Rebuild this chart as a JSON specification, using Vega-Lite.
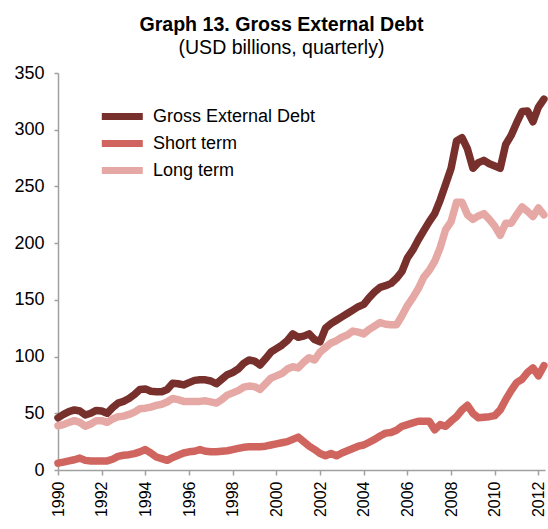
{
  "$schema": "https://vega.github.io/schema/vega-lite/v6.json",
  "width": 487,
  "height": 397,
  "padding": {"left": 13, "top": 14, "right": 4, "bottom": 0},
  "background": "white",
  "config": {"view": {"stroke": null}, "font": "Liberation Sans"},
  "title": {
    "text": "Graph 13. Gross External Debt",
    "subtitle": "(USD billions, quarterly)",
    "font": "Liberation Sans",
    "fontSize": 19.6,
    "fontWeight": "bold",
    "color": "black",
    "subtitleFont": "Liberation Sans",
    "subtitleFontSize": 19.5,
    "subtitleColor": "black",
    "subtitlePadding": 3,
    "anchor": "middle",
    "frame": "group",
    "dx": -20,
    "offset": 6
  },
  "data": {
    "values": [
      {"t": 1990.00, "g": 46, "s": 6, "l": 39},
      {"t": 1990.25, "g": 49, "s": 7, "l": 40},
      {"t": 1990.50, "g": 51.5, "s": 8, "l": 42},
      {"t": 1990.75, "g": 53, "s": 9, "l": 43.5},
      {"t": 1991.00, "g": 52, "s": 10.5, "l": 42},
      {"t": 1991.25, "g": 48.5, "s": 8.5, "l": 38.5},
      {"t": 1991.50, "g": 50, "s": 8, "l": 40.5},
      {"t": 1991.75, "g": 52.5, "s": 8, "l": 43.5},
      {"t": 1992.00, "g": 52, "s": 8, "l": 43.5},
      {"t": 1992.25, "g": 50, "s": 8, "l": 42},
      {"t": 1992.50, "g": 55, "s": 9.5, "l": 45},
      {"t": 1992.75, "g": 59, "s": 12, "l": 47},
      {"t": 1993.00, "g": 60.5, "s": 13, "l": 47.5},
      {"t": 1993.25, "g": 63, "s": 13.5, "l": 49},
      {"t": 1993.50, "g": 66.5, "s": 14.5, "l": 51},
      {"t": 1993.75, "g": 71, "s": 16, "l": 54},
      {"t": 1994.00, "g": 71.5, "s": 18, "l": 54.5},
      {"t": 1994.25, "g": 69.5, "s": 15, "l": 55.5},
      {"t": 1994.50, "g": 69, "s": 11.5, "l": 57},
      {"t": 1994.75, "g": 69, "s": 10, "l": 58},
      {"t": 1995.00, "g": 71, "s": 8.5, "l": 60},
      {"t": 1995.25, "g": 76.5, "s": 11, "l": 63},
      {"t": 1995.50, "g": 76, "s": 13, "l": 62},
      {"t": 1995.75, "g": 75, "s": 15, "l": 60.5},
      {"t": 1996.00, "g": 77, "s": 16, "l": 60.5},
      {"t": 1996.25, "g": 79, "s": 16.5, "l": 60.5},
      {"t": 1996.50, "g": 79.5, "s": 18, "l": 60.5},
      {"t": 1996.75, "g": 79.5, "s": 16.5, "l": 61},
      {"t": 1997.00, "g": 78.5, "s": 16, "l": 60},
      {"t": 1997.25, "g": 76, "s": 16, "l": 59},
      {"t": 1997.50, "g": 80, "s": 16.5, "l": 62},
      {"t": 1997.75, "g": 84, "s": 17, "l": 66},
      {"t": 1998.00, "g": 86, "s": 18, "l": 68},
      {"t": 1998.25, "g": 89, "s": 19, "l": 70},
      {"t": 1998.50, "g": 94, "s": 20, "l": 73},
      {"t": 1998.75, "g": 97, "s": 20.5, "l": 74},
      {"t": 1999.00, "g": 96, "s": 20.5, "l": 73.5},
      {"t": 1999.25, "g": 92.5, "s": 20.5, "l": 71},
      {"t": 1999.50, "g": 98, "s": 21, "l": 76},
      {"t": 1999.75, "g": 104, "s": 22, "l": 81},
      {"t": 2000.00, "g": 107, "s": 23, "l": 83},
      {"t": 2000.25, "g": 110, "s": 24, "l": 85},
      {"t": 2000.50, "g": 114, "s": 25, "l": 89},
      {"t": 2000.75, "g": 120, "s": 27, "l": 91},
      {"t": 2001.00, "g": 117, "s": 29, "l": 90},
      {"t": 2001.25, "g": 118, "s": 25, "l": 95},
      {"t": 2001.50, "g": 120, "s": 21, "l": 99},
      {"t": 2001.75, "g": 115, "s": 18, "l": 97},
      {"t": 2002.00, "g": 113, "s": 14.5, "l": 104},
      {"t": 2002.25, "g": 125, "s": 12.5, "l": 108},
      {"t": 2002.50, "g": 129, "s": 14.5, "l": 112},
      {"t": 2002.75, "g": 132, "s": 12.5, "l": 114},
      {"t": 2003.00, "g": 135, "s": 15, "l": 117},
      {"t": 2003.25, "g": 138, "s": 17, "l": 119},
      {"t": 2003.50, "g": 141, "s": 19, "l": 122.5},
      {"t": 2003.75, "g": 144, "s": 21, "l": 121.5},
      {"t": 2004.00, "g": 146, "s": 22, "l": 120},
      {"t": 2004.25, "g": 152, "s": 24.5, "l": 124},
      {"t": 2004.50, "g": 157, "s": 27, "l": 127},
      {"t": 2004.75, "g": 161, "s": 30, "l": 130},
      {"t": 2005.00, "g": 162.5, "s": 32.5, "l": 128.5},
      {"t": 2005.25, "g": 164.5, "s": 33, "l": 128},
      {"t": 2005.50, "g": 169, "s": 35, "l": 128},
      {"t": 2005.75, "g": 175, "s": 38.5, "l": 136},
      {"t": 2006.00, "g": 187, "s": 40, "l": 145},
      {"t": 2006.25, "g": 194, "s": 41.5, "l": 152},
      {"t": 2006.50, "g": 203, "s": 43, "l": 160},
      {"t": 2006.75, "g": 211, "s": 43, "l": 170},
      {"t": 2007.00, "g": 219, "s": 43, "l": 176},
      {"t": 2007.25, "g": 226, "s": 35.5, "l": 184},
      {"t": 2007.50, "g": 238, "s": 40, "l": 196},
      {"t": 2007.75, "g": 252, "s": 38.5, "l": 212},
      {"t": 2008.00, "g": 266, "s": 43, "l": 219},
      {"t": 2008.25, "g": 290, "s": 47, "l": 236},
      {"t": 2008.50, "g": 293, "s": 53, "l": 236},
      {"t": 2008.75, "g": 283, "s": 57, "l": 225},
      {"t": 2009.00, "g": 266, "s": 50, "l": 221},
      {"t": 2009.25, "g": 271, "s": 46, "l": 224},
      {"t": 2009.50, "g": 273, "s": 46.5, "l": 226},
      {"t": 2009.75, "g": 270, "s": 47, "l": 221},
      {"t": 2010.00, "g": 268, "s": 48, "l": 215},
      {"t": 2010.25, "g": 266, "s": 53, "l": 207},
      {"t": 2010.50, "g": 287, "s": 62, "l": 217.5},
      {"t": 2010.75, "g": 295, "s": 70, "l": 217.5},
      {"t": 2011.00, "g": 306, "s": 77, "l": 225},
      {"t": 2011.25, "g": 316, "s": 80, "l": 232},
      {"t": 2011.50, "g": 316.5, "s": 86, "l": 228},
      {"t": 2011.75, "g": 307, "s": 90, "l": 223.5},
      {"t": 2012.00, "g": 320, "s": 83, "l": 231},
      {"t": 2012.25, "g": 327, "s": 92, "l": 225}
    ]
  },
  "transform": [{"fold": ["g", "s", "l"], "as": ["k", "v"]}],
  "mark": {"type": "line", "strokeWidth": 7.5, "strokeJoin": "round", "strokeCap": "round", "clip": false},
  "encoding": {
    "x": {
      "field": "t",
      "type": "quantitative",
      "scale": {"domain": [1990, 2012.3], "nice": false, "zero": false},
      "axis": {
        "title": null,
        "values": [1990, 1992, 1994, 1996, 1998, 2000, 2002, 2004, 2006, 2008, 2010, 2012],
        "format": "d",
        "labelAngle": 270,
        "labelFontSize": 16,
        "labelColor": "black",
        "labelPadding": 6,
        "labelFont": "Liberation Sans",
        "tickSize": 5,
        "tickColor": "#a0a0a0",
        "domainColor": "#a0a0a0",
        "domainWidth": 1.5,
        "tickWidth": 1.5,
        "grid": false
      }
    },
    "y": {
      "field": "v",
      "type": "quantitative",
      "scale": {"domain": [0, 350], "nice": false},
      "axis": {
        "title": null,
        "values": [0, 50, 100, 150, 200, 250, 300, 350],
        "labelFontSize": 18,
        "labelColor": "black",
        "labelPadding": 10,
        "labelFont": "Liberation Sans",
        "tickSize": 4,
        "tickColor": "#a0a0a0",
        "domainColor": "#a0a0a0",
        "domainWidth": 1.5,
        "tickWidth": 1.5,
        "grid": false
      }
    },
    "color": {
      "field": "k",
      "type": "nominal",
      "scale": {"domain": ["g", "s", "l"], "range": ["#78302c", "#cf655e", "#e6a8a4"]},
      "legend": {
        "title": null,
        "orient": "none",
        "legendX": 66,
        "legendY": 31,
        "padding": 0,
        "labelExpr": "datum.value == 'g' ? 'Gross External Debt' : datum.value == 's' ? 'Short term' : 'Long term'",
        "labelFontSize": 18,
        "labelLimit": 0,
        "labelFont": "Liberation Sans",
        "labelColor": "black",
        "labelOffset": 4,
        "symbolType": "M-3.856,0L0.7,0",
        "symbolSize": 324,
        "symbolStrokeWidth": 7,
        "symbolFillColor": "transparent",
        "rowPadding": -2
      }
    },
    "order": {"field": "t", "type": "quantitative"}
  }
}
